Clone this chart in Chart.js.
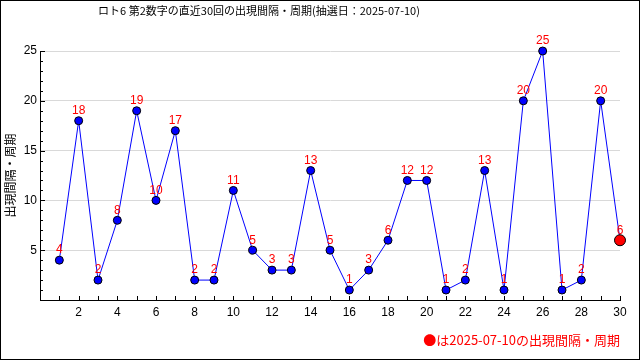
<!DOCTYPE html>
<html>
<head>
<meta charset="utf-8">
<script src="https://cdn.jsdelivr.net/npm/chart.js@4.4.1/dist/chart.umd.min.js"></script>
<style>
  html, body { margin: 0; padding: 0; background: #fff; }
</style>
</head>
<body>
<canvas id="gapChart" width="640" height="360"></canvas>
<script>
// 直近30回 (1 = 古い, 30 = 最新)
const draws = [1, 2, 3, 4, 5, 6, 7, 8, 9, 10, 11, 12, 13, 14, 15, 16, 17, 18, 19, 20, 21, 22, 23, 24, 25, 26, 27, 28, 29, 30];
const gaps = [4, 18, 2, 8, 19, 10, 17, 2, 2, 11, 5, 3, 3, 13, 5, 1, 3, 6, 12, 12, 1, 2, 13, 1, 20, 25, 1, 2, 20, 6];
const yTickLabels = [5, 10, 15, 20, 25];
const xTickLabels = [2, 4, 6, 8, 10, 12, 14, 16, 18, 20, 22, 24, 26, 28, 30];
const drawDate = '2025-07-10';
const titleText = 'ロト6 第2数字の直近30回の出現間隔・周期(抽選日：' + drawDate + ')';

const last = gaps.length - 1;
const labelFont = '12px "Liberation Sans", Arial, sans-serif';

// 外枠とタイトル (タイトルは元画像どおり少し左寄り)
const frame = {
  id: 'frame',
  afterDraw(chart) {
    const ctx = chart.ctx;
    ctx.save();
    ctx.strokeStyle = '#000';
    ctx.lineWidth = 1;
    ctx.strokeRect(0.5, 0.5, chart.width - 1, chart.height - 1);
    ctx.font = '11px "Noto Sans CJK JP"';
    ctx.fillStyle = '#000';
    ctx.textAlign = 'center';
    ctx.textBaseline = 'middle';
    ctx.fillText(titleText, 259, 11);
    ctx.restore();
  }
};

// 目盛り線は内側向き
const innerTicks = {
  id: 'innerTicks',
  beforeDatasetsDraw(chart) {
    const { ctx, chartArea: a, scales: { x, y } } = chart;
    ctx.save();
    ctx.strokeStyle = '#000';
    ctx.lineWidth = 1;
    ctx.beginPath();
    x.ticks.forEach(t => {
      if (t.value <= 0) return;
      const px = Math.round(x.getPixelForValue(t.value)) + 0.5;
      ctx.moveTo(px, a.bottom);
      ctx.lineTo(px, a.bottom - 4);
    });
    y.ticks.forEach(t => {
      if (t.value <= 0) return;
      const py = Math.round(y.getPixelForValue(t.value)) + 0.5;
      const len = t.value % 5 === 0 ? 5 : 3;
      ctx.moveTo(a.left, py);
      ctx.lineTo(a.left + len, py);
    });
    ctx.stroke();
    ctx.restore();
  }
};

// 各点の値ラベル
const valueLabels = {
  id: 'valueLabels',
  afterDatasetsDraw(chart) {
    const ctx = chart.ctx;
    const meta = chart.getDatasetMeta(0);
    ctx.save();
    ctx.font = labelFont;
    ctx.fillStyle = '#ff0000';
    ctx.textAlign = 'center';
    ctx.textBaseline = 'middle';
    meta.data.forEach((pt, i) => {
      ctx.fillText(String(gaps[i]), pt.x, pt.y - 10);
    });
    ctx.restore();
  }
};

new Chart(document.getElementById('gapChart'), {
  type: 'line',
  data: {
    datasets: [{
      data: draws.map((d, i) => ({ x: d, y: gaps[i] })),
      borderColor: '#0000ff',
      borderWidth: 1,
      tension: 0,
      clip: false,
      pointBackgroundColor: ctx => ctx.dataIndex === last ? '#ff0000' : '#0000ff',
      pointBorderColor: '#000',
      pointBorderWidth: 1,
      pointRadius: ctx => ctx.dataIndex === last ? 5.5 : 4,
      pointHoverRadius: ctx => ctx.dataIndex === last ? 5.5 : 4
    }]
  },
  options: {
    responsive: false,
    animation: false,
    layout: {
      padding: { left: 0, right: 20, top: 51, bottom: 0 }
    },
    plugins: {
      legend: { display: false },
      tooltip: { enabled: false },
      title: { display: false },
      subtitle: {
        display: true,
        position: 'bottom',
        align: 'end',
        text: '●は' + drawDate + 'の出現間隔・周期',
        color: '#ff0000',
        font: { family: '"Noto Sans CJK JP"', size: 13, weight: 'normal' },
        padding: { top: 10.5, bottom: 11.9 }
      }
    },
    scales: {
      x: {
        type: 'linear',
        min: 0,
        max: 30,
        afterFit: s => { s.height = 22; },
        ticks: {
          stepSize: 1,
          autoSkip: false,
          maxRotation: 0,
          padding: 5,
          color: '#000',
          font: { family: '"Liberation Sans"', size: 12 },
          callback: v => xTickLabels.includes(v) ? String(v) : ''
        },
        grid: { drawOnChartArea: false, drawTicks: false },
        border: { color: '#000', width: 1 }
      },
      y: {
        min: 0,
        max: 25,
        afterFit: s => { s.width = 40; },
        ticks: {
          stepSize: 1,
          autoSkip: false,
          padding: 3,
          color: '#000',
          font: { family: '"Liberation Sans"', size: 12 },
          callback: v => yTickLabels.includes(v) ? String(v) : ''
        },
        grid: {
          drawTicks: false,
          color: ctx => (ctx.tick && yTickLabels.includes(ctx.tick.value)) ? '#d9d9d9' : 'rgba(0,0,0,0)'
        },
        border: { color: '#000', width: 1 },
        title: {
          display: true,
          text: '出現間隔・周期',
          color: '#000',
          font: { family: '"Noto Sans CJK JP"', size: 12 },
          padding: { top: 3, bottom: 0 }
        }
      }
    }
  },
  plugins: [frame, innerTicks, valueLabels]
});
</script>
</body>
</html>
